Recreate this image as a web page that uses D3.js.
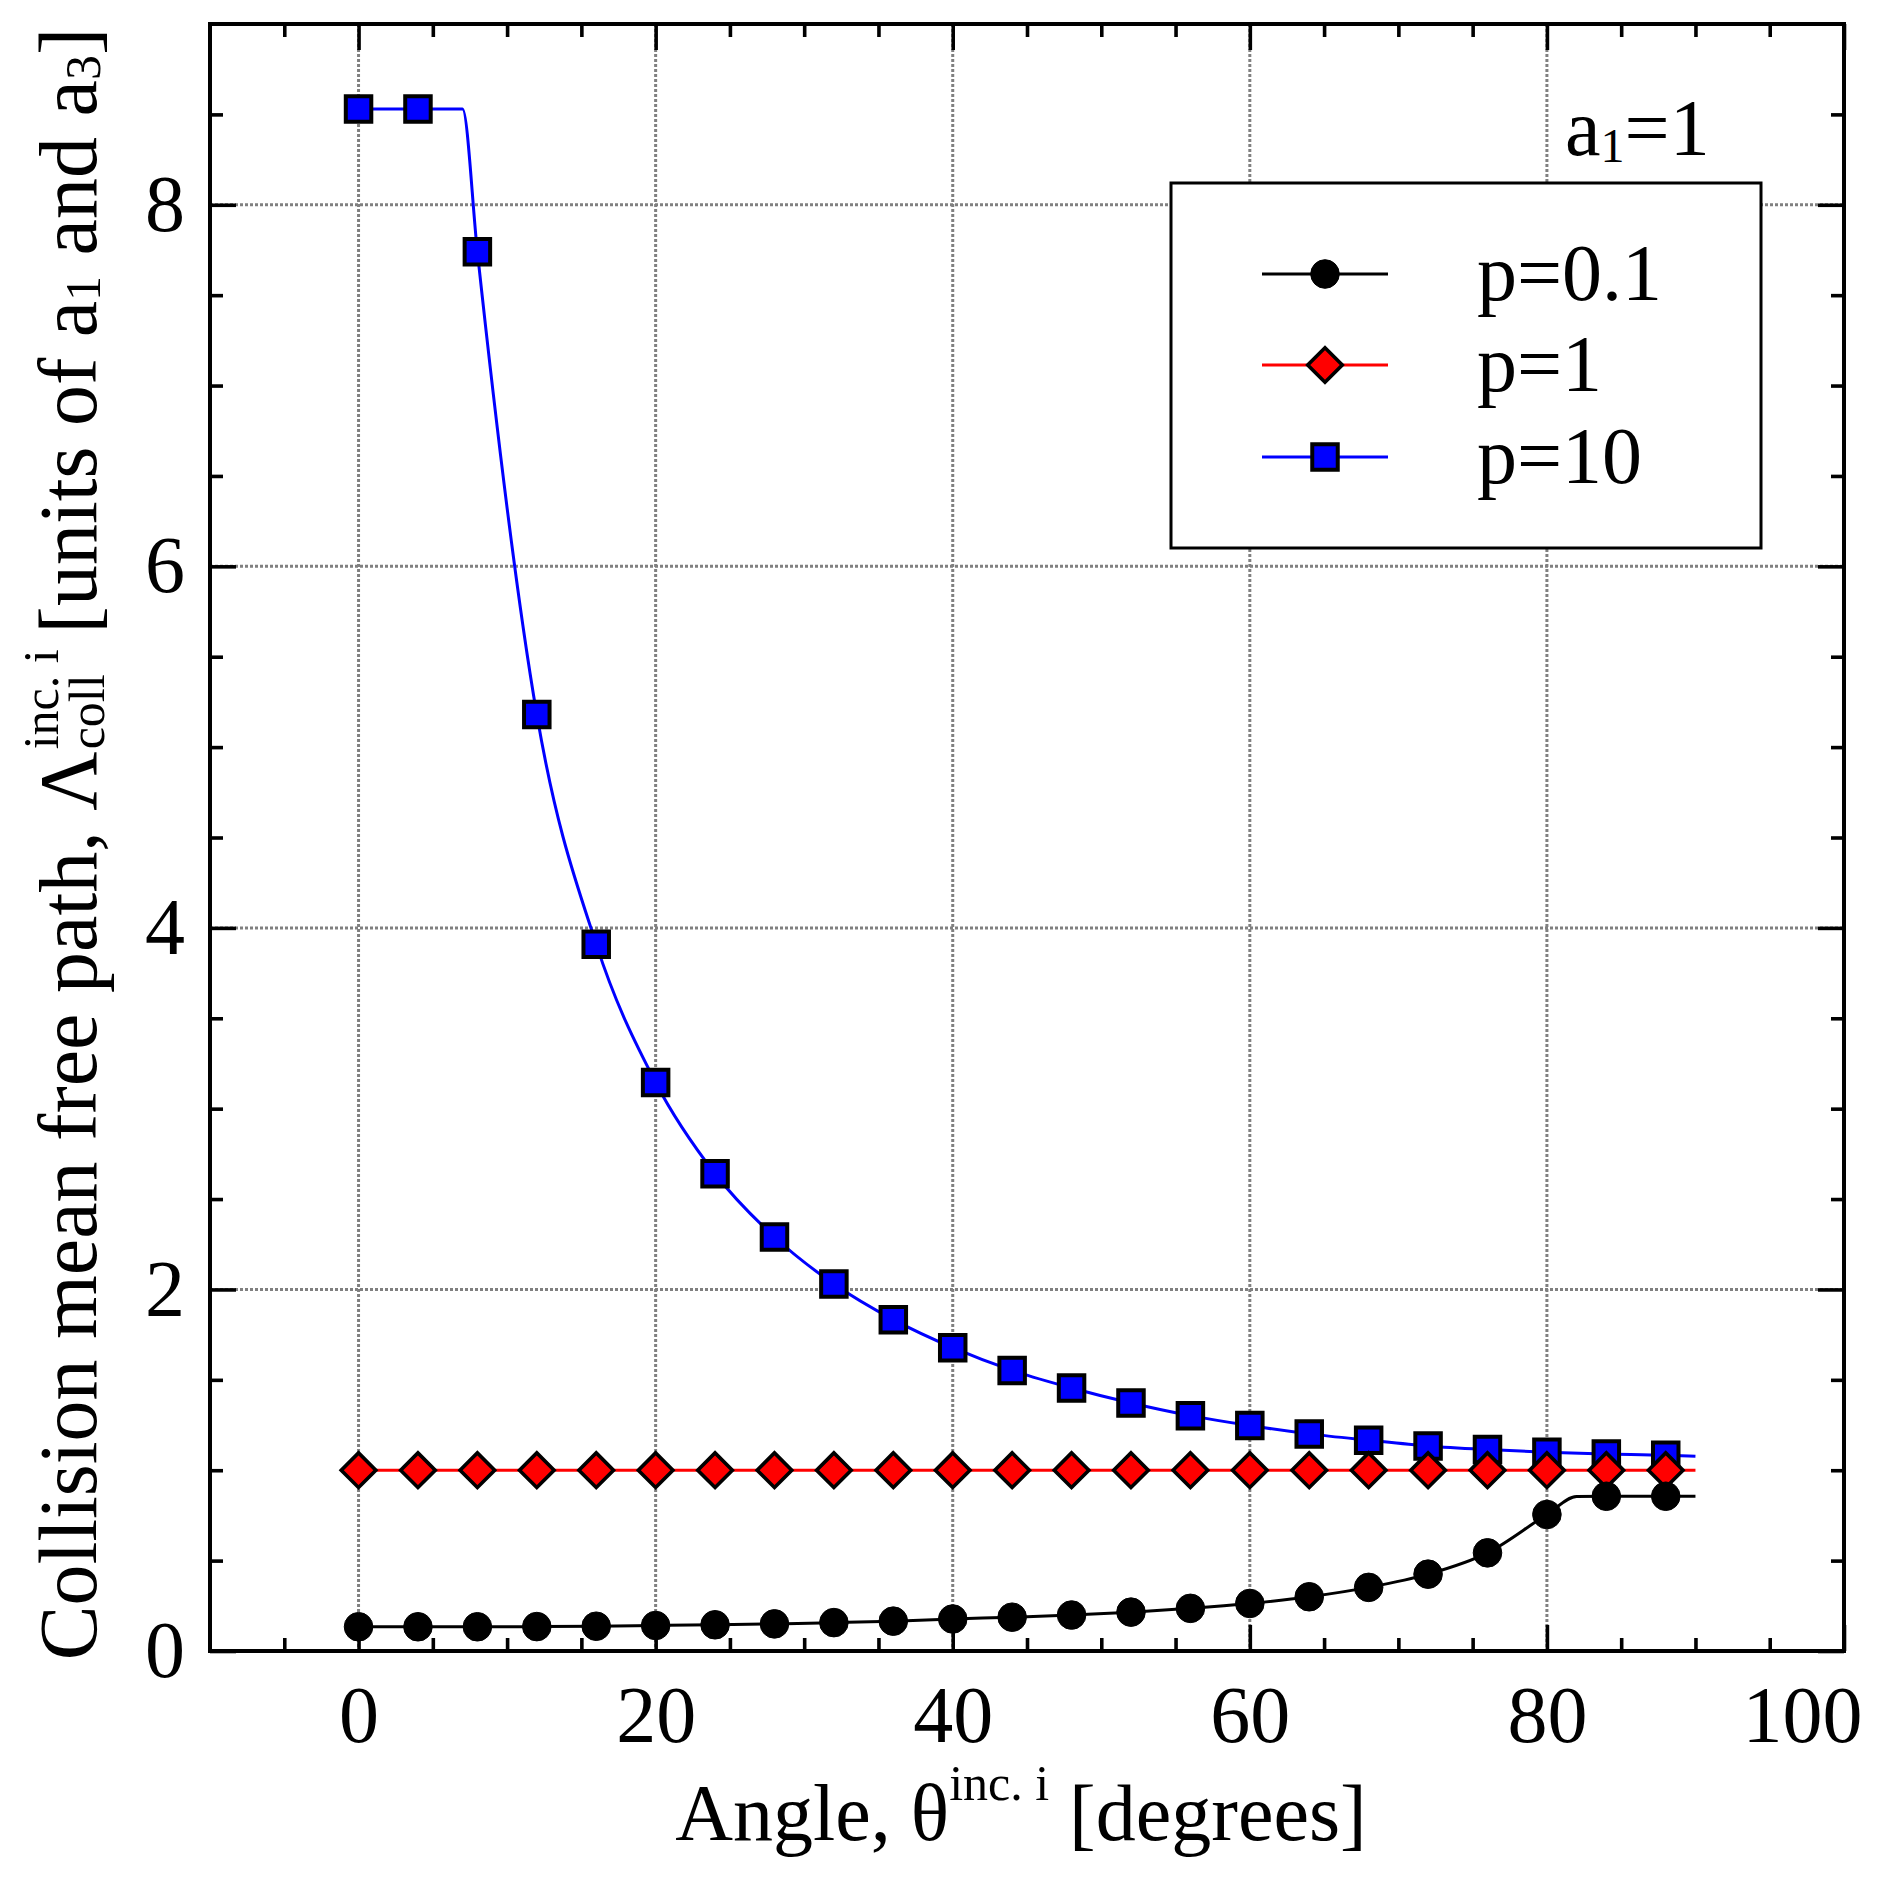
<!DOCTYPE html>
<html>
<head>
<meta charset="utf-8">
<script src="https://cdn.jsdelivr.net/npm/d3@7/dist/d3.min.js"></script>
<style>
  html, body { margin: 0; padding: 0; background: #fff; }
  svg { display: block; }
  text { font-family: "Liberation Serif", "Times New Roman", serif; fill: #000; }
</style>
</head>
<body>
<svg id="chart" width="1877" height="1880"></svg>
<script>
// ---------------- data ----------------
const angles = [0, 4, 8, 12, 16, 20, 24, 28, 32, 36, 40, 44, 48, 52, 56, 60, 64, 68, 72, 76, 80, 84, 88];
const p01 = [0.134, 0.134, 0.134, 0.135, 0.137, 0.141, 0.145, 0.150, 0.157, 0.165, 0.177, 0.187, 0.199, 0.215, 0.236, 0.263, 0.300, 0.352, 0.425, 0.543, 0.755, 0.856, 0.856];
const p1  = [1.0, 1.0, 1.0, 1.0, 1.0, 1.0, 1.0, 1.0, 1.0, 1.0, 1.0, 1.0, 1.0, 1.0, 1.0, 1.0, 1.0, 1.0, 1.0, 1.0, 1.0, 1.0, 1.0];
const p10 = [8.53, 8.53, 7.74, 5.18, 3.91, 3.145, 2.64, 2.29, 2.03, 1.833, 1.678, 1.552, 1.455, 1.372, 1.302, 1.247, 1.201, 1.166, 1.134, 1.114, 1.099, 1.090, 1.083];
// extra knots of the continuous curves
const p01KnotX = [82, 90];   const p01KnotY = [0.854, 0.856];
const p1KnotX  = [90];       const p1KnotY  = [1.0];
const p10KnotX = [7, 90];    const p10KnotY = [8.53, 1.077];

const seriesNames = ["p=0.1", "p=1", "p=10"];
const xMajor = [0, 20, 40, 60, 80, 100];
const xMinor = [-5, 5, 10, 15, 25, 30, 35, 45, 50, 55, 65, 70, 75, 85, 90, 95];
const yMajor = [0, 2, 4, 6, 8];
const yMinor = [0.5, 1, 1.5, 2.5, 3, 3.5, 4.5, 5, 5.5, 6.5, 7, 7.5, 8.5];
const xGrid = [0, 20, 40, 60, 80];
const yGrid = [2, 4, 6, 8];

// ---------------- layout ----------------
const L = 210, R = 1844, T = 24, B = 1651;
const svg = d3.select("#chart");
const x = d3.scaleLinear().domain([-10, 100]).range([L, R]);
const y = d3.scaleLinear().domain([0, 9]).range([B, T]);

// grid
const grid = svg.append("g").attr("stroke", "#808080").attr("stroke-width", 3).attr("stroke-dasharray", "3 2");
grid.selectAll("line.gx").data(xGrid).join("line")
  .attr("x1", d => x(d)).attr("x2", d => x(d)).attr("y1", T).attr("y2", B);
grid.selectAll("line.gy").data(yGrid).join("line")
  .attr("y1", d => y(d)).attr("y2", d => y(d)).attr("x1", L).attr("x2", R);

// series
function build(xs, ys, kx, ky) {
  const pts = xs.map((a, i) => [a, ys[i]]).concat(kx.map((a, i) => [a, ky[i]]));
  pts.sort((a, b) => a[0] - b[0]);
  return pts;
}
const lineGen = d3.line().x(d => x(d[0])).y(d => y(d[1])).curve(d3.curveMonotoneX);

const symCircle = d3.symbol().type(d3.symbolCircle).size(Math.PI * 14.3 * 14.3);
const symSquare = d3.symbol().type(d3.symbolSquare).size(25.5 * 25.5);
const symDiamond = d3.symbol().type(d3.symbolSquare).size(24.5 * 24.5);

const series = [
  { name: seriesNames[2], ys: p10, kx: p10KnotX, ky: p10KnotY, color: "#0000ff", sym: symSquare, rot: 0, sw: 4 },
  { name: seriesNames[1], ys: p1,  kx: p1KnotX,  ky: p1KnotY,  color: "#ff0000", sym: symDiamond, rot: 45, sw: 3.6 },
  { name: seriesNames[0], ys: p01, kx: p01KnotX, ky: p01KnotY, color: "#000000", sym: symCircle, rot: 0, sw: 1 }
];

series.forEach(s => {
  const g = svg.append("g");
  g.append("path").attr("d", lineGen(build(angles, s.ys, s.kx, s.ky)))
    .attr("fill", "none").attr("stroke", s.color).attr("stroke-width", 3);
  g.selectAll("path.m").data(angles.map((a, i) => [a, s.ys[i]])).join("path")
    .attr("class", "m")
    .attr("d", s.sym())
    .attr("transform", d => `translate(${x(d[0])},${y(d[1])}) rotate(${s.rot})`)
    .attr("fill", s.color).attr("stroke", "#000").attr("stroke-width", s.sw);
});

// axes (inward ticks on all four sides)
const fontTick = 80;
function styleAxis(g) {
  g.select(".domain").remove();
  g.selectAll(".tick line").attr("stroke", "#000").attr("stroke-width", 3.6);
}
svg.append("g").attr("transform", `translate(0,${B})`)
  .call(d3.axisBottom(x).tickValues(xMajor).tickSize(-26).tickPadding(34).tickFormat(d3.format("d")))
  .call(styleAxis)
  .call(g => g.selectAll("text").attr("font-size", fontTick).attr("font-family", "Liberation Serif"))
  .call(g => g.selectAll(".tick").filter(d => d === 100).select("text").attr("text-anchor", "end").attr("x", 18));
svg.append("g").attr("transform", `translate(0,${B})`)
  .call(d3.axisBottom(x).tickValues(xMinor).tickSize(-13).tickFormat(""))
  .call(styleAxis);
svg.append("g").attr("transform", `translate(0,${T})`)
  .call(d3.axisTop(x).tickValues(xMajor).tickSize(-26).tickFormat(""))
  .call(styleAxis);
svg.append("g").attr("transform", `translate(0,${T})`)
  .call(d3.axisTop(x).tickValues(xMinor).tickSize(-13).tickFormat(""))
  .call(styleAxis);
svg.append("g").attr("transform", `translate(${L},0)`)
  .call(d3.axisLeft(y).tickValues(yMajor).tickSize(-26).tickPadding(25).tickFormat(d3.format("d")))
  .call(styleAxis)
  .call(g => g.selectAll("text").attr("font-size", fontTick).attr("font-family", "Liberation Serif"));
svg.append("g").attr("transform", `translate(${L},0)`)
  .call(d3.axisLeft(y).tickValues(yMinor).tickSize(-13).tickFormat(""))
  .call(styleAxis);
svg.append("g").attr("transform", `translate(${R},0)`)
  .call(d3.axisRight(y).tickValues(yMajor).tickSize(-26).tickFormat(""))
  .call(styleAxis);
svg.append("g").attr("transform", `translate(${R},0)`)
  .call(d3.axisRight(y).tickValues(yMinor).tickSize(-13).tickFormat(""))
  .call(styleAxis);

// frame
svg.append("rect").attr("x", L).attr("y", T).attr("width", R - L).attr("height", B - T)
  .attr("fill", "none").attr("stroke", "#000").attr("stroke-width", 4);

// x title
const xt = svg.append("text").attr("x", (L + R) / 2 - 6).attr("y", 1840)
  .attr("text-anchor", "middle").attr("font-size", 80);
xt.append("tspan").text("Angle, θ");
xt.append("tspan").attr("font-size", 50).attr("dy", -40).text("inc. i");
xt.append("tspan").attr("font-size", 80).attr("dy", 40).text(" [degrees]");

// y title (rotated, built piecewise and measured)
const yg = svg.append("g");
const fY = 82, fS = 50;
const t1 = yg.append("text").attr("x", 0).attr("y", 0).attr("font-size", fY).text("Collision mean free path, Λ");
const w1 = t1.node().getComputedTextLength();
const tsub = yg.append("text").attr("x", w1 + 2).attr("y", 8).attr("font-size", fS).text("coll");
const tsup = yg.append("text").attr("x", w1 + 2).attr("y", -38).attr("font-size", fS).text("inc. i");
const w2 = Math.max(tsub.node().getComputedTextLength(), tsup.node().getComputedTextLength());
const t3 = yg.append("text").attr("x", w1 + 2 + w2 + 16).attr("y", 0).attr("font-size", fY);
t3.append("tspan").text("[units of a");
t3.append("tspan").attr("font-size", fS).attr("dy", 4).text("1");
t3.append("tspan").attr("font-size", fY).attr("dy", -4).text(" and a");
t3.append("tspan").attr("font-size", fS).attr("dy", 4).text("3");
t3.append("tspan").attr("font-size", fY).attr("dy", -4).text("]");
const total = w1 + 2 + w2 + 16 + t3.node().getComputedTextLength();
yg.attr("transform", `translate(96,${844 + total / 2}) rotate(-90)`);

// annotation a1=1
const an = svg.append("text").attr("x", 1565).attr("y", 155).attr("font-size", 80);
an.append("tspan").text("a");
an.append("tspan").attr("font-size", 48).attr("dy", 7).text("1");
an.append("tspan").attr("font-size", 80).attr("dy", -7).text("=1");

// legend
const lg = svg.append("g");
lg.append("rect").attr("x", 1171).attr("y", 183).attr("width", 590).attr("height", 365)
  .attr("fill", "#fff").attr("stroke", "#000").attr("stroke-width", 3);
const legendOrder = [series[2], series[1], series[0]];
const rowY = [274, 365, 457];
legendOrder.forEach((s, i) => {
  const cy = rowY[i];
  lg.append("line").attr("x1", 1262).attr("x2", 1388).attr("y1", cy).attr("y2", cy)
    .attr("stroke", s.color).attr("stroke-width", 3);
  lg.append("path").attr("d", s.sym()).attr("transform", `translate(1325,${cy}) rotate(${s.rot})`)
    .attr("fill", s.color).attr("stroke", "#000").attr("stroke-width", s.sw);
  lg.append("text").attr("x", 1477).attr("y", cy + 26).attr("font-size", 80).text(s.name);
});
</script>
</body>
</html>
